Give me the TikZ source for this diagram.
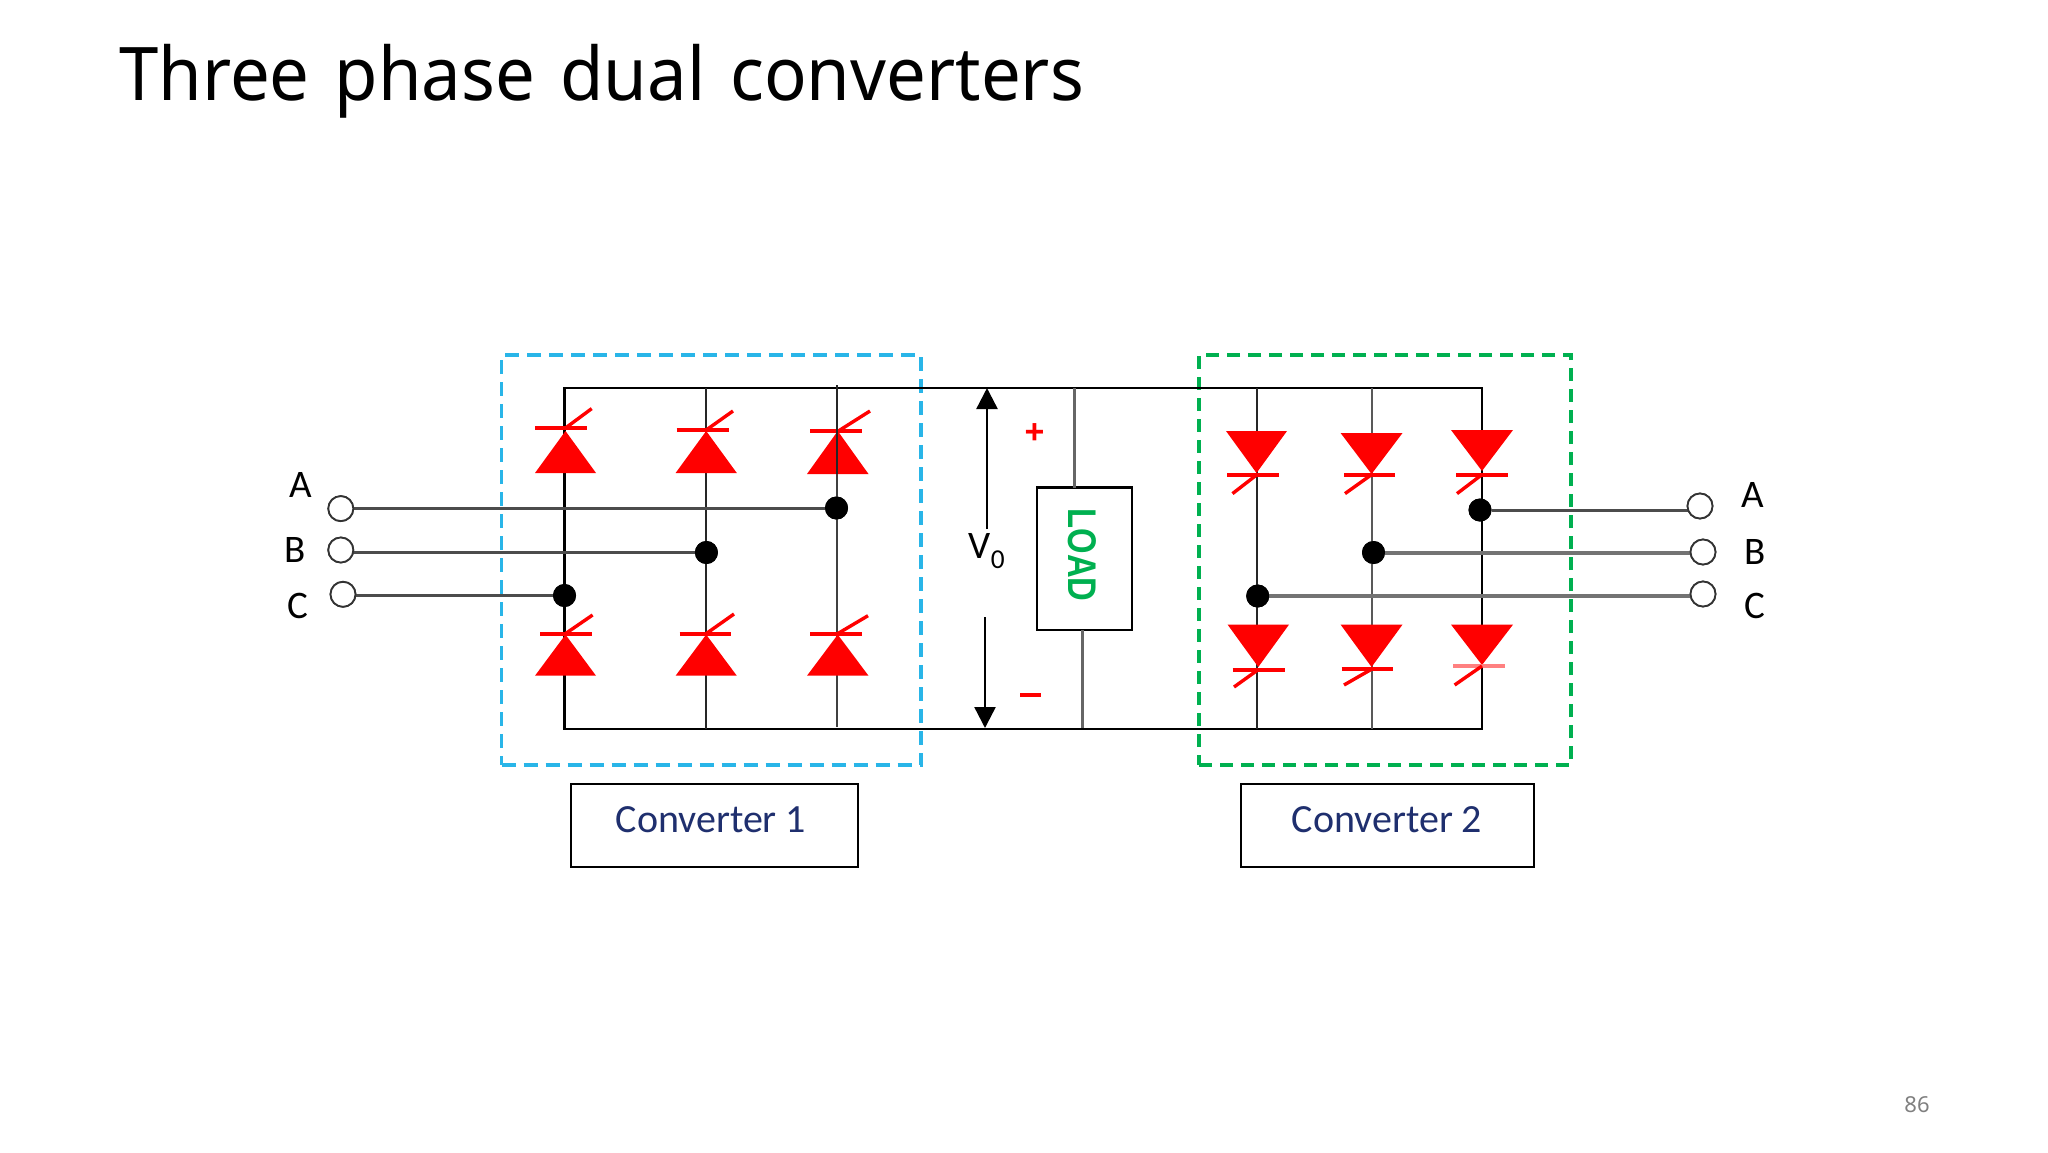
\documentclass[tikz,border=0pt]{standalone}
\usepackage{fontspec}
\setmainfont{Carlito}
\newfontfamily\titlefont{Noto Sans}
\newfontfamily\loadfont{Liberation Sans}
\usetikzlibrary{arrows.meta}
\definecolor{cblue}{HTML}{29B5E8}
\definecolor{cgreen}{HTML}{00B050}
\definecolor{cnavy}{HTML}{1F2F6E}
\tikzset{
  rail/.style={line width=2.6pt,black},
  leg/.style={line width=2pt,black!85},
  feed/.style={line width=3pt,black!70},
  feedthick/.style={line width=4pt,black!55},
  dot/.style={circle,fill=black,draw=none,minimum size=23pt,inner sep=0pt,outer sep=0pt},
  term/.style={circle,draw=black!80,fill=white,line width=1.8pt,minimum size=25pt,inner sep=0pt},
  thybody/.style={fill=red,draw=none},
  thybar/.style={line width=4pt,red},
  thygate/.style={line width=3.4pt,red},
  phase/.style={font=\fontsize{39}{39}\selectfont,text=black,inner sep=0pt},
  namebox/.style={draw=black,line width=2.4pt,fill=none,inner sep=0pt,outer sep=0pt},
  nametext/.style={font=\fontsize{40}{40}\selectfont,text=cnavy,inner sep=0pt},
  groupc/.style={draw=cblue,line width=3.6pt,dash pattern=on 14pt off 8pt},
  groupg/.style={draw=cgreen,line width=3.2pt,dash pattern=on 13pt off 8pt},
  volt/.style={line width=2.4pt,black,-{Triangle[length=21pt,width=21pt]}},
}
% baseL baseR baseY apexY barL barR barY gateEnd
\newcommand{\thyr}[9][red]{%
  \fill[thybody] (#2,#4) -- (#3,#4) -- ({(#2+#3)/2},#5) -- cycle;
  \draw[thybar,#1] (#6,#8) -- (#7,#8);
  \draw[thygate] ({(#2+#3)/2},#8) -- #9;
}
\begin{document}
\begin{tikzpicture}[x=1pt,y=-1pt]
\useasboundingbox (0,0) rectangle (2048,1152);
\fill[white] (0,0) rectangle (2048,1152);

\node[anchor=base west,inner sep=0pt,font=\titlefont\fontsize{74}{74}\selectfont,text=black] (title) at (119,100) {\scalebox{.955}[1]{Three\hspace{7pt} phase\hspace{7pt} dual\hspace{7pt} converters}};

% rail corners
\coordinate (tl) at (564.5,388);
\coordinate (tr) at (1482,388);
\coordinate (bl) at (564.5,729);
\coordinate (br) at (1482,729);
\coordinate (t2) at (706.4,388);
\coordinate (t3) at (836.8,385);
\coordinate (b2) at (706.4,729);
\coordinate (b3) at (836.8,727);
\coordinate (t4) at (1257,388);
\coordinate (t5) at (1372,388);
\coordinate (b4) at (1257,729);
\coordinate (b5) at (1372,729);

% group boxes
\node[groupc,minimum width=419.5pt,minimum height=410pt,inner sep=0pt,outer sep=0pt,anchor=north west] (conv1group) at (501.5,355) {};
\node[groupg,minimum width=372pt,minimum height=410pt,inner sep=0pt,outer sep=0pt,anchor=north west] (conv2group) at (1199,355) {};

% junction dots and terminals
\node[dot] (d1a) at (836.5,508) {};
\node[dot] (d1b) at (706.4,552.5) {};
\node[dot] (d1c) at (564.5,595.5) {};
\node[dot] (d2a) at (1480,510) {};
\node[dot] (d2b) at (1373.5,552.5) {};
\node[dot] (d2c) at (1257.7,596) {};
\node[term] (la) at (340.8,508.6) {};
\node[term] (lb) at (340.8,550) {};
\node[term] (lc) at (343,594.3) {};
\node[term] (ra) at (1700,506) {};
\node[term] (rb) at (1703,552) {};
\node[term] (rc) at (1703,594) {};

% bus rails and legs
\draw[rail] (bl) -- (tl) -- (tr) -- (br) -- cycle;
\draw[leg] (t2) -- (b2);
\draw[leg,black!75,line width=2.6pt] (t3) -- (b3);
\draw[leg] (t4) -- (b4);
\draw[leg,black!65,line width=2.6pt] (t5) -- (b5);

% feeds
\draw[feed] (la |- d1a) -- (d1a);
\draw[feed] (lb |- d1b) -- (d1b);
\draw[feed] (lc |- d1c) -- (d1c);
\draw[feed] (ra |- d2a) -- (d2a);
\draw[feedthick] (rb |- d2b) -- (d2b);
\draw[feedthick] (rc |- d2c) -- (d2c);
\foreach \n in {d1a,d1b,d1c,d2a,d2b,d2c} \node[dot] at (\n) {};
\foreach \n in {la,lb,lc,ra,rb,rc} \node[term] at (\n) {};

% converter 1 thyristors
\thyr{535}{596}{473}{431}{535}{587}{428}{(591.7,408.6)}
\thyr{675.6}{736.8}{473}{431}{676.5}{729}{430}{(733,411)}
\thyr{807}{868.5}{474}{431}{810}{862}{431.4}{(870,411)}
\thyr{535}{596}{675.7}{634.6}{540}{592}{633.6}{(592.6,615)}
\thyr{675.6}{736.8}{675.7}{634.6}{679.6}{731}{633.6}{(734,614)}
\thyr{807}{868.5}{675.7}{634.6}{810}{862}{633.6}{(868,615.7)}
\draw[leg,black!85,line width=2.4pt] (836.8,385) -- (836.8,474);

% converter 2 thyristors
\thyr{1226}{1287}{431}{473}{1227}{1279}{475}{(1232.5,493.6)}
\thyr{1340.6}{1402.5}{433}{474}{1344}{1395}{474.6}{(1345,493.6)}
\thyr{1451}{1513}{430}{471}{1456}{1508}{474.6}{(1457,493.6)}
\thyr{1227.6}{1289}{624.6}{667}{1232.5}{1284.6}{669.6}{(1234,687)}
\thyr{1340.6}{1402.5}{624.6}{667}{1341.7}{1393}{669.2}{(1344,685)}
\thyr[red!50]{1451}{1513}{624.6}{665}{1453}{1505}{666}{(1454.6,685)}

% V0 and arrows
\node[inner sep=0pt,font=\fontsize{39}{39}\selectfont] (vo) at (987,551) {V\textsubscript{0}};
\coordinate (vupS) at (987,529);
\coordinate (vupE) at (987,388);
\coordinate (vdnS) at (985,617);
\coordinate (vdnE) at (985,728);
\draw[volt] (vupS) -- (vupE);
\draw[volt] (vdnS) -- (vdnE);
\node[inner sep=0pt,text=red,font=\loadfont\bfseries\fontsize{34}{34}\selectfont] (plus) at (1034.5,434) {+};
\draw[red,line width=4.2pt] (1020,695) -- (1041,695);

% load
\node[draw=black,line width=2.4pt,fill=white,minimum width=95pt,minimum height=142.5pt,inner sep=0pt,outer sep=0pt,anchor=north west] (load) at (1037,487.5) {};
\node[inner sep=0pt,text=cgreen,rotate=-90,font=\loadfont\bfseries\fontsize{40}{40}\selectfont] (loadtext) at (1082.6,555) {\scalebox{.82}[1]{LOAD}};
\coordinate (lt) at (1074,388);
\coordinate (lb2) at (1082,728);
\draw[line width=3pt,black!60] (lt) -- (lt |- load.north);
\draw[line width=3pt,black!60] (lb2 |- load.south) -- (lb2);

% phase labels
\node[phase] (al) at (300.5,485) {A};
\node[phase] (bl2) at (295.5,550) {B};
\node[phase] (cl) at (297.5,606) {C};
\node[phase] (ar) at (1753,495) {A};
\node[phase] (br2) at (1755,552) {B};
\node[phase] (cr) at (1755,606) {C};

% name boxes
\node[namebox,minimum width=287pt,minimum height=83pt,anchor=north west] (c1box) at (571,784) {};
\node[namebox,minimum width=293.3pt,minimum height=83pt,anchor=north west] (c2box) at (1240.7,784) {};
\node[nametext] (c1t) at (711,820) {Converter 1};
\node[nametext] (c2t) at (1387,820) {Converter 2};

\node[inner sep=0pt,text=black!50,font=\titlefont\fontsize{22}{22}\selectfont] (page) at (1917,1105) {86};
\end{tikzpicture}
\end{document}
